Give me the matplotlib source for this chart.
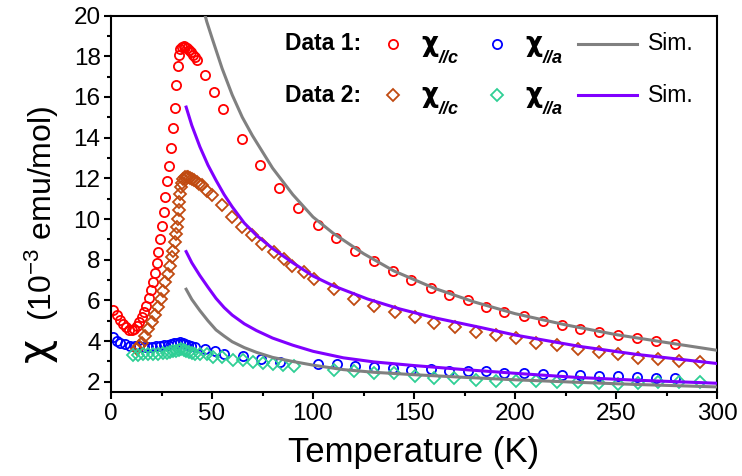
import matplotlib
matplotlib.use('Agg')
import matplotlib.pyplot as plt

plt.rcParams['font.family'] = ['Liberation Sans', 'DejaVu Sans']
plt.rcParams['mathtext.fontset'] = 'custom'
plt.rcParams['mathtext.rm'] = 'Liberation Sans'
plt.rcParams['mathtext.it'] = 'Liberation Sans:italic'
plt.rcParams['mathtext.bf'] = 'Liberation Sans:bold'

# data 1, chi // c (red circles)
t_c1 = [1.2, 2.8, 4.5, 6.1, 7.6, 9.0, 10.4, 11.6, 12.8, 14.0, 15.2, 16.3, 17.5, 18.6,
        19.6, 20.6, 21.6, 22.6, 23.5, 24.4, 25.2, 26.0, 26.8, 27.6, 28.9, 29.7, 30.6,
        31.6, 32.4, 33.0, 33.6, 34.3, 35.0, 35.9, 36.8, 37.7, 38.6, 39.6, 40.5, 41.5,
        42.5, 46.3, 51.2, 55.4, 64.8, 73.9, 83.3, 92.4, 102.3, 111.4, 120.9, 130.0,
        139.5, 148.6, 158.2, 167.2, 176.6, 185.4, 194.7, 204.3, 213.9, 223.3, 232.4,
        241.5, 250.9, 260.2, 269.6, 279.1]
chi_c1 = [5.52, 5.28, 5.02, 4.84, 4.67, 4.56, 4.55, 4.62, 4.75, 4.95, 5.2, 5.45, 5.75, 6.1,
          6.5, 6.9, 7.35, 7.85, 8.4, 9.0, 9.65, 10.35, 11.1, 11.85, 12.6, 13.5, 14.47,
          15.46, 16.6, 17.5, 18.05, 18.35, 18.47, 18.5, 18.47, 18.4, 18.3, 18.2, 18.08,
          17.95, 17.8, 17.1, 16.25, 15.4, 13.92, 12.63, 11.52, 10.55, 9.73, 9.05, 8.45,
          7.92, 7.43, 7.02, 6.61, 6.28, 6.02, 5.70, 5.44, 5.21, 5.0, 4.80, 4.62, 4.47,
          4.30, 4.13, 4.0, 3.85]

# data 1, chi // a (blue circles)
t_a1 = [1.2, 2.8, 4.5, 6.9, 9.4, 11.9, 14.0, 16.2, 18.5, 20.5, 22.5, 24.5, 26.3, 28.0,
        29.6, 31.2, 32.8, 34.2, 35.5, 36.8, 38.2, 39.6, 41.6, 46.6, 51.6, 56.0, 65.1,
        74.2, 83.8, 102.5, 111.8, 120.9, 130.4, 139.5, 148.6, 158.2, 167.2, 176.6,
        185.4, 194.7, 204.3, 213.9, 223.3, 232.4, 241.5, 250.9, 260.2, 269.6, 279.1]
chi_a1 = [4.18, 4.02, 3.93, 3.85, 3.78, 3.76, 3.74, 3.73, 3.72, 3.73, 3.74, 3.76, 3.79, 3.82,
          3.86, 3.9, 3.93, 3.97, 3.93, 3.87, 3.82, 3.78, 3.72, 3.6, 3.52, 3.39, 3.28,
          3.11, 2.98, 2.87, 2.87, 2.78, 2.73, 2.68, 2.6, 2.64, 2.53, 2.51, 2.51, 2.42,
          2.42, 2.37, 2.34, 2.34, 2.28, 2.28, 2.24, 2.21, 2.18]

# data 2, chi // c (brown diamonds)
t_c2 = [13.0, 14.1, 15.2, 16.9, 18.5, 20.1, 21.8, 23.4, 24.6, 25.6, 26.8, 28.1, 29.3,
        30.0, 30.9, 31.7, 32.4, 32.9, 33.2, 33.6, 33.9, 34.2, 34.6, 35.0, 35.8, 36.7,
        37.5, 38.3, 39.2, 40.0, 41.2, 42.4, 43.7, 44.9, 47.4, 49.9, 54.8, 59.7, 64.8,
        69.8, 74.8, 80.5, 85.5, 89.6, 95.3, 100.3, 110.2, 120.1, 130.0, 140.8, 150.4,
        160.1, 170.5, 180.5, 190.4, 200.3, 210.2, 221.0, 231.3, 241.5, 251.1, 261.1,
        271.0, 281.2, 291.4]
chi_c2 = [3.6, 3.75, 3.93, 4.26, 4.59, 4.95, 5.3, 5.66, 6.07, 6.48, 6.89, 7.3, 7.71, 8.12,
          8.45, 8.86, 9.27, 9.6, 10.0, 10.42, 10.83, 11.24, 11.55, 11.75, 11.95, 12.06,
          12.08, 12.06, 12.02, 11.98, 11.9, 11.81, 11.73, 11.65, 11.4, 11.16, 10.67,
          10.09, 9.6, 9.19, 8.78, 8.36, 8.04, 7.71, 7.38, 7.05, 6.56, 6.07, 5.74, 5.43,
          5.2, 4.89, 4.70, 4.46, 4.30, 4.13, 3.93, 3.82, 3.61, 3.47, 3.36, 3.19, 3.11,
          3.03, 2.95]

# data 2, chi // a (green diamonds)
t_a2 = [11.0, 13.5, 16.0, 18.5, 21.0, 23.5, 25.8, 27.6, 29.3, 30.9, 32.4, 33.6, 34.8,
        36.0, 37.3, 38.6, 40.0, 41.6, 44.1, 47.4, 50.7, 54.8, 60.6, 65.5, 70.4, 75.4,
        80.3, 85.3, 90.4, 110.2, 120.1, 130.0, 139.9, 150.4, 160.1, 170.0, 180.5,
        190.4, 200.3, 210.2, 221.0, 231.3, 241.5, 251.0, 261.0, 271.0, 281.2, 291.4]
chi_a2 = [3.3, 3.33, 3.35, 3.35, 3.36, 3.38, 3.41, 3.44, 3.47, 3.5, 3.53, 3.58, 3.6, 3.57,
          3.52, 3.47, 3.43, 3.38, 3.36, 3.35, 3.23, 3.21, 3.07, 3.05, 2.98, 2.92, 2.87,
          2.84, 2.77, 2.6, 2.53, 2.45, 2.45, 2.3, 2.21, 2.18, 2.08, 2.05, 2.05, 2.02,
          2.0, 1.97, 1.95, 1.9, 1.92, 2.0, 2.0, 2.0]

# simulations
t_sim1_c = [45, 47.4, 50, 55, 60, 65, 70, 80, 90, 100, 110, 125, 140, 160, 180, 200,
            225, 250, 275, 300]
sim1_c = [20.6, 19.7, 18.9, 17.4, 16.1, 15.0, 14.1, 12.5, 11.2, 10.1, 9.3, 8.3, 7.45,
          6.6, 5.92, 5.35, 4.8, 4.32, 3.93, 3.55]
t_sim2_c = [37.2, 40, 44, 48, 52, 56, 60, 66, 72, 80, 90, 100, 110, 127, 143, 160, 183,
            200, 232, 260, 300]
sim2_c = [15.5, 14.6, 13.55, 12.65, 11.9, 11.2, 10.6, 9.8, 9.2, 8.55, 7.85, 7.2, 6.72,
          6.07, 5.58, 5.15, 4.67, 4.3, 3.74, 3.35, 2.9]
t_low = [37.2, 40, 44, 48, 52, 56, 60, 66, 72, 80, 90, 100, 115, 130, 150, 175, 200,
         230, 260, 300]
sim2_a = [8.4, 7.85, 7.22, 6.65, 6.1, 5.65, 5.28, 4.85, 4.52, 4.15, 3.8, 3.5, 3.18, 2.98,
          2.8, 2.6, 2.42, 2.22, 2.08, 1.93]
sim1_a = [6.55, 6.05, 5.5, 5.0, 4.55, 4.25, 3.97, 3.68, 3.45, 3.2, 3.0, 2.82, 2.6, 2.47,
          2.35, 2.22, 2.1, 1.98, 1.87, 1.75]

red = '#ff0000'
blue = '#0000ff'
brown = '#c04a10'
green = '#2fcf95'
gray = '#808080'
purple = '#8000ff'

fig = plt.figure(figsize=(7.42, 4.76), dpi=100)
ax = fig.add_axes([111 / 742, 1 - 392 / 476, 606 / 742, 376.5 / 476])

mk = dict(linestyle='none', fillstyle='none', markeredgewidth=1.3, zorder=2)
ax.plot(t_c1, chi_c1, 'o', color=red, markersize=6.6, **mk)
ax.plot(t_a1, chi_a1, 'o', color=blue, markersize=6.6, **mk)
ax.plot(t_c2, chi_c2, 'D', color=brown, markersize=5.8, **mk)
ax.plot(t_a2, chi_a2, 'D', color=green, markersize=5.8, **mk)

ax.plot(t_sim1_c, sim1_c, color=gray, lw=2.2, zorder=3)
ax.plot(t_low, sim1_a, color=gray, lw=2.2, zorder=3)
ax.plot(t_sim2_c, sim2_c, color=purple, lw=2.2, zorder=3)
ax.plot(t_low, sim2_a, color=purple, lw=2.2, zorder=3)

ax.set_xlim(0, 300)
ax.set_ylim(1.5, 20)
ax.set_xticks(range(0, 301, 50))
ax.set_xticks(range(25, 300, 50), minor=True)
ax.set_yticks(range(2, 21, 2))
ax.set_yticks(range(3, 20, 2), minor=True)
for s in ax.spines.values():
    s.set_linewidth(1.5)
ax.tick_params(which='major', length=5, width=1.5, labelsize=17.5, pad=2.5)
ax.tick_params(which='minor', length=3, width=1.5)
ax.tick_params(axis='x', pad=3)

ax.set_xlabel('Temperature (K)', fontsize=25, labelpad=8)
fig.text(36 / 742, 1 - 350 / 476, 'χ', fontsize=30, rotation=90, ha='center', va='center',
         family='DejaVu Sans')
fig.text(42 / 742, 1 - 213 / 476, '(10$^{-3}$ emu/mol)', fontsize=23, rotation=90,
         ha='center', va='center')

# legend, drawn by hand
def ax_pt(px, py):
    return (px - 111) / 606, (392 - py) / 376.5

rows = [(44, 'Data 1:', 'o', red, blue, gray, 6.6),
        (95, 'Data 2:', 'D', brown, green, purple, 5.8)]
for py, name, m, c1, c2, lc, ms in rows:
    x, y = ax_pt(285, py)
    ax.text(x, y, name, transform=ax.transAxes, fontsize=16.5, fontweight='bold',
            ha='left', va='center')
    for mx, col, sub in [(393, c1, '//c'), (497, c2, '//a')]:
        x, y = ax_pt(mx, py)
        ax.plot([x], [y], m, color=col, markersize=ms, fillstyle='none',
                markeredgewidth=1.3, transform=ax.transAxes, clip_on=False)
        x, y = ax_pt(mx + 28, py + 7)
        t = ax.text(x, y, 'χ', transform=ax.transAxes, fontsize=19, fontweight='bold',
                    ha='left', va='baseline', family='DejaVu Sans')
        ax.annotate(sub, xy=(1, 0), xycoords=t, xytext=(0.5, -4),
                    textcoords='offset points', fontsize=13, fontweight='bold',
                    fontstyle='italic', ha='left', va='baseline')
    x0, y0 = ax_pt(578, py)
    x1, _ = ax_pt(637, py)
    ax.plot([x0, x1], [y0, y0], color=lc, lw=2.2, transform=ax.transAxes, clip_on=False)
    x, y = ax_pt(648, py)
    ax.text(x, y, 'Sim.', transform=ax.transAxes, fontsize=16.5, ha='left', va='center')

fig.savefig('out.png', dpi=100)
